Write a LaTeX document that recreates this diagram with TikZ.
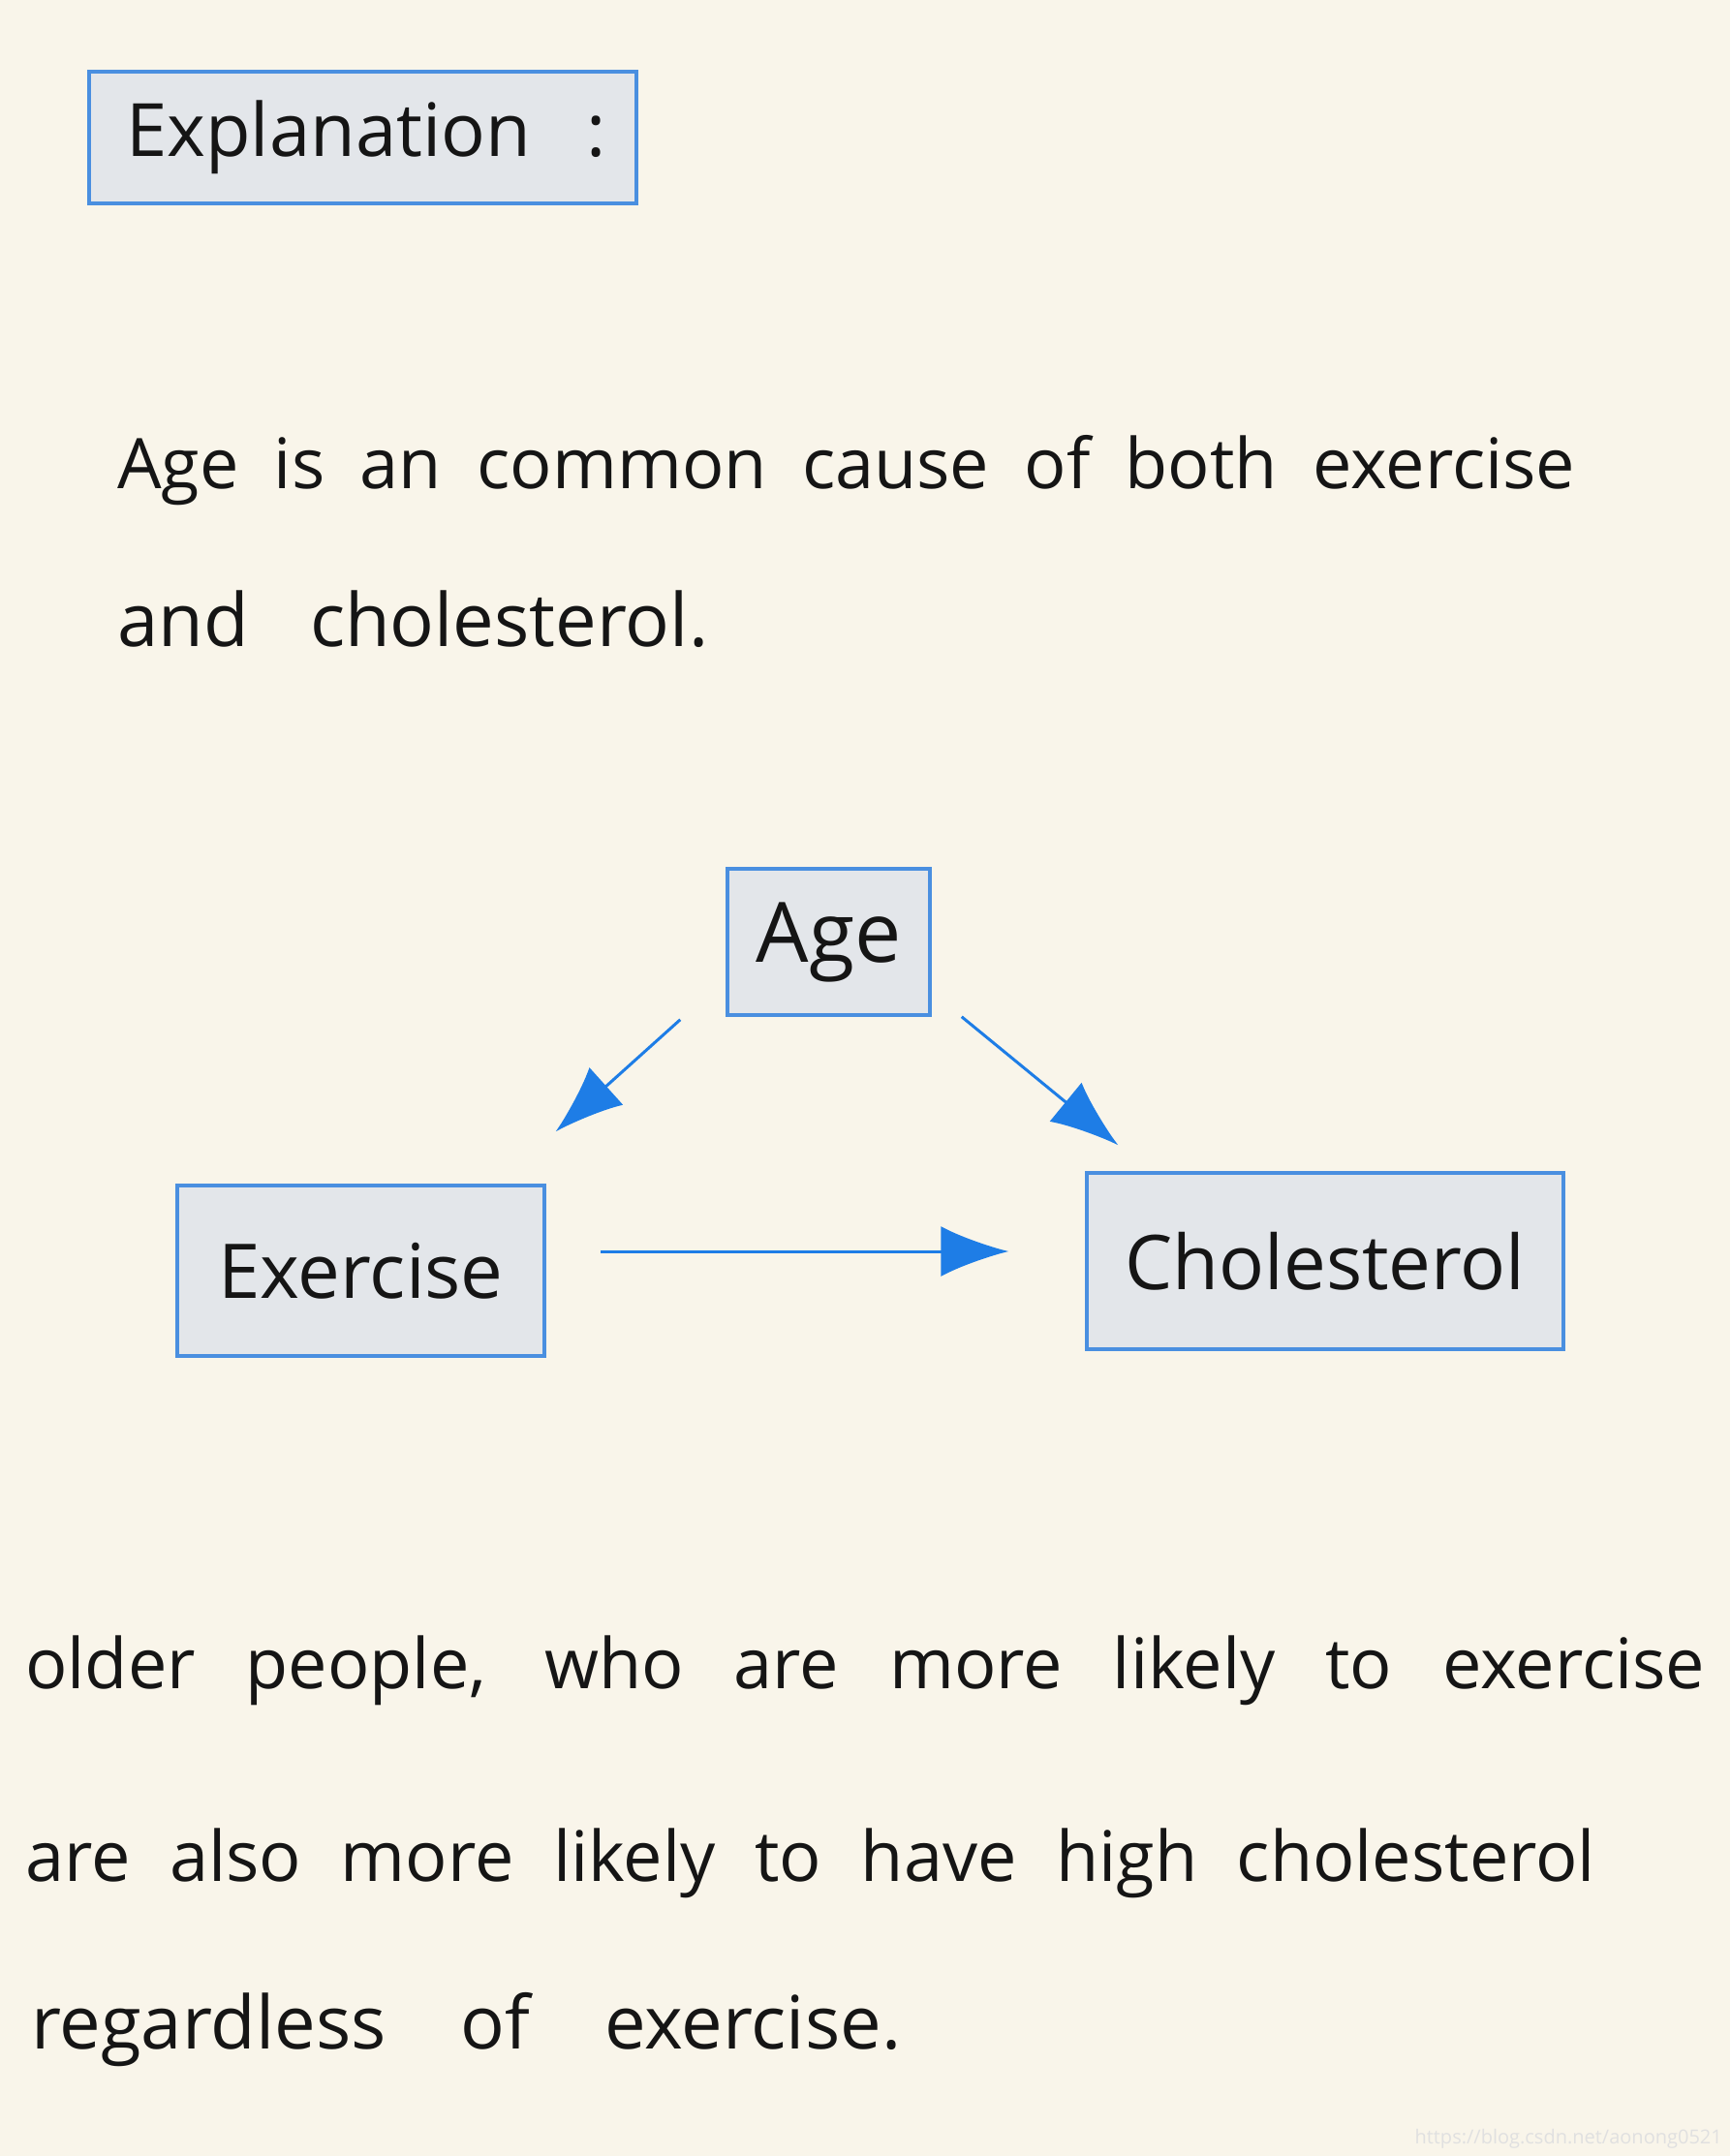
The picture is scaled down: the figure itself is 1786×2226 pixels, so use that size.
\documentclass[tikz,border=0pt]{standalone}
\usepackage{fontspec}
\setmainfont{Open Sans}
\usetikzlibrary{arrows.meta}
\definecolor{bgcream}{HTML}{F9F5EA}
\definecolor{boxfill}{HTML}{E3E6EA}
\definecolor{boxline}{HTML}{4A8FE0}
\definecolor{arrblue}{HTML}{1E7DE6}
\definecolor{inkcol}{HTML}{151515}
\tikzset{
  box/.style={draw=boxline, line width=3.5pt, fill=boxfill, inner sep=0pt, text=inkcol, font=\fontsize{78}{90}\selectfont},
  para/.style={anchor=base west, inner sep=0pt, text=inkcol, font=\fontsize{72}{86}\selectfont},
  arr/.style={draw=arrblue, line width=3pt, -{Latex[length=70pt,width=52pt]}}
}
\begin{document}
\begin{tikzpicture}[x=1pt,y=-1pt]
\fill[bgcream] (0,0) rectangle (1786,2226);
\useasboundingbox (0,0) rectangle (1786,2226);
% header box
\node[box, minimum width=565pt, minimum height=136pt] (expl) at (374.5,142) {};
\node[para, anchor=west, font=\fontsize{76}{90}\selectfont] (expltext) at (130,142) {Explanation\hspace{58pt}:};
% first paragraph
\node[para] (p1) at (121,504) {\makebox[1505pt][s]{Age is an common cause of both exercise}};
\node[para, font=\fontsize{76}{90}\selectfont] (p2) at (121,667) {\makebox[610pt][s]{and cholesterol.}};
% diagram
\node[box, minimum width=209pt, minimum height=151pt, font=\fontsize{86}{96}\selectfont] (age) at (855.5,972.5) {Age};
\node[box, minimum width=379pt, minimum height=176pt] (exer) at (372.5,1312) {Exercise};
\node[box, minimum width=492pt, minimum height=182pt] (chol) at (1368,1302) {Cholesterol};
\draw[arr] ([xshift=-47pt,yshift=-3pt]age.south west) -- ([xshift=10pt,yshift=54pt]exer.north east);
\draw[arr] ([xshift=31pt]age.south east) -- ([xshift=34pt,yshift=27pt]chol.north west);
\draw[arr] ([xshift=56pt,yshift=20pt]exer.east) -- ([xshift=-79pt,yshift=10pt]chol.west);
% bottom paragraph
\node[para] (q1) at (26,1743) {\makebox[1734pt][s]{older people, who are more likely to exercise}};
\node[para] (q2) at (26,1942) {\makebox[1621pt][s]{are also more likely to have high cholesterol}};
\node[para, font=\fontsize{76}{90}\selectfont] (q3) at (32,2115) {\makebox[898pt][s]{regardless of exercise.}};
% watermark
\node[anchor=east, inner sep=0pt, text=black!12, font=\fontsize{20}{24}\selectfont] (wm) at (1778,2208) {https://blog.csdn.net/aonong0521};
\end{tikzpicture}
\end{document}
